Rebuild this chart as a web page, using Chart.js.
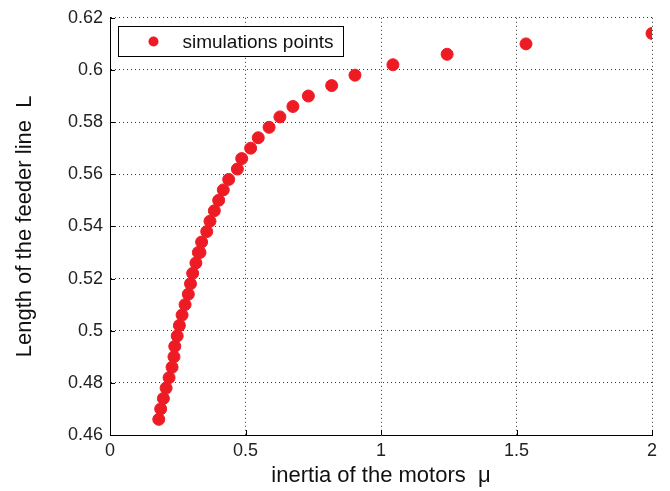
<!DOCTYPE html>
<html>
<head>
<meta charset="utf-8">
<script src="https://cdn.jsdelivr.net/npm/chart.js@4"></script>
<style>
  body { margin: 0; background: #fff; }
  #wrap { width: 670px; height: 491px; }
</style>
</head>
<body>
<div id="wrap"><canvas id="main-chart" width="670" height="491"></canvas></div>
<script>
// values
var muData = [0.180, 0.187, 0.197, 0.207, 0.218, 0.229, 0.236, 0.239, 0.248, 0.256,
              0.266, 0.277, 0.289, 0.297, 0.305, 0.317, 0.326, 0.332, 0.338, 0.357,
              0.369, 0.385, 0.401, 0.418, 0.438, 0.470, 0.486, 0.519, 0.547, 0.587,
              0.627, 0.675, 0.732, 0.818, 0.904, 1.044, 1.244, 1.535, 2.000];
var lData = [0.466, 0.470, 0.474, 0.478, 0.482, 0.486, 0.490, 0.494, 0.498, 0.502,
             0.506, 0.510, 0.514, 0.518, 0.522, 0.526, 0.530, 0.530, 0.534, 0.538,
             0.542, 0.546, 0.550, 0.554, 0.558, 0.562, 0.566, 0.570, 0.574, 0.578,
             0.582, 0.586, 0.590, 0.594, 0.598, 0.602, 0.606, 0.610, 0.614];
var xTicks = [0, 0.5, 1, 1.5, 2];
var yTicks = [0.46, 0.48, 0.5, 0.52, 0.54, 0.56, 0.58, 0.6, 0.62];
var seriesName = "simulations points";

var points = muData.map(function (m, i) { return { x: m, y: lData[i] }; });
var red = 'rgb(237,28,36)';
var font = "'Liberation Sans', Arial, sans-serif";

// small inward tick marks + boxed legend inside the axes (matlab look)
var matlabBits = {
  id: 'matlabBits',
  afterDraw: function (chart) {
    var ctx = chart.ctx, a = chart.chartArea;
    var xs = chart.scales.x, ys = chart.scales.y;
    ctx.save();
    ctx.strokeStyle = '#000';
    ctx.lineWidth = 1;
    ctx.beginPath();
    xTicks.forEach(function (t) {
      var px = Math.round(xs.getPixelForValue(t)) + 0.5;
      ctx.moveTo(px, a.bottom); ctx.lineTo(px, a.bottom - 5);
    });
    yTicks.forEach(function (t) {
      var py = Math.round(ys.getPixelForValue(t)) + 0.5;
      ctx.moveTo(a.left, py); ctx.lineTo(a.left + 5, py);
    });
    ctx.stroke();

    ctx.font = "19px " + font;
    var tw = ctx.measureText(seriesName).width;
    var bx = Math.round(a.left + 8) + 0.5, by = Math.round(a.top + 8) + 0.5;
    var bw = Math.round(tw + 74), bh = 30;
    ctx.fillStyle = '#fff';
    ctx.fillRect(bx, by, bw, bh);
    ctx.strokeRect(bx, by, bw, bh);
    ctx.fillStyle = red;
    ctx.beginPath();
    ctx.arc(bx + 35, by + bh / 2, 5, 0, Math.PI * 2);
    ctx.fill();
    ctx.fillStyle = '#111';
    ctx.textBaseline = 'middle';
    ctx.fillText(seriesName, bx + 64, by + bh / 2 + 1);
    ctx.restore();
  }
};

new Chart(document.getElementById('main-chart'), {
  type: 'scatter',
  data: {
    datasets: [{
      label: seriesName,
      data: points,
      backgroundColor: red,
      borderColor: red,
      pointRadius: 6,
      pointHoverRadius: 6
    }]
  },
  options: {
    responsive: false,
    animation: false,
    layout: { padding: { left: 0, top: 14, right: 18, bottom: 0 } },
    plugins: {
      legend: { display: false },
      tooltip: { enabled: false }
    },
    scales: {
      x: {
        type: 'linear',
        min: 0,
        max: 2,
        afterBuildTicks: function (s) { s.ticks = xTicks.map(function (v) { return { value: v }; }); },
        afterFit: function (s) { s.height = 56; },
        grid: { color: '#333', lineWidth: 1, drawTicks: false },
        border: { display: true, color: '#000', width: 1, dash: [1, 3] },
        ticks: { color: '#222', font: { family: font, size: 18 }, padding: 5,
                 callback: function (v) { return String(+v.toFixed(2)); } },
        title: { display: true, text: 'inertia of the motors  \u03bc', color: '#111',
                 font: { family: font, size: 22 }, padding: { top: 0, bottom: 2 } }
      },
      y: {
        min: 0.46,
        max: 0.62,
        afterBuildTicks: function (s) { s.ticks = yTicks.map(function (v) { return { value: v }; }); },
        afterFit: function (s) { s.width = 110; },
        grid: { color: '#333', lineWidth: 1, drawTicks: false },
        border: { display: true, color: '#000', width: 1, dash: [1, 3] },
        ticks: { color: '#222', font: { family: font, size: 18 }, padding: 7,
                 callback: function (v) { return String(+v.toFixed(2)); } },
        title: { display: true, text: 'Length of the feeder line  L', color: '#111',
                 font: { family: font, size: 22 }, padding: { top: 12, bottom: 0 } }
      }
    }
  },
  plugins: [matlabBits]
});
</script>
</body>
</html>
